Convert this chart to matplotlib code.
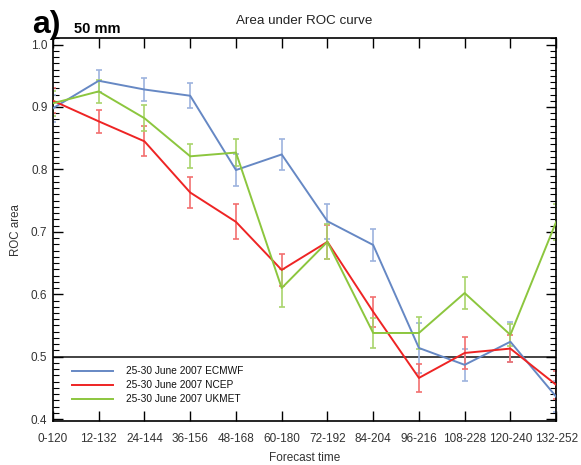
import matplotlib.pyplot as plt
from matplotlib.ticker import MultipleLocator
import numpy as np

plt.rcParams["font.family"] = ["Liberation Sans", "DejaVu Sans"]

# forecast windows (hours)
windows = ["0-120", "12-132", "24-144", "36-156", "48-168", "60-180",
           "72-192", "84-204", "96-216", "108-228", "120-240", "132-252"]

ecmwf = [0.898, 0.942, 0.928, 0.918, 0.799, 0.824, 0.717, 0.679, 0.514, 0.487, 0.524, 0.436]
ecmwf_err = [0.022, 0.018, 0.018, 0.020, 0.025, 0.025, 0.028, 0.026, 0.040, 0.026, 0.032, 0.025]

ncep = [0.910, 0.877, 0.845, 0.763, 0.716, 0.639, 0.684, 0.572, 0.466, 0.506, 0.513, 0.455]
ncep_err = [0.020, 0.018, 0.024, 0.025, 0.028, 0.025, 0.027, 0.024, 0.022, 0.025, 0.022, 0.022]

ukmet = [0.906, 0.925, 0.882, 0.821, 0.827, 0.610, 0.684, 0.538, 0.538, 0.602, 0.535, 0.716]
ukmet_err = [0.020, 0.019, 0.021, 0.019, 0.021, 0.030, 0.028, 0.024, 0.025, 0.026, 0.018, 0.029]

series = [
    ("25-30 June 2007 ECMWF", ecmwf, ecmwf_err, "#6688c4", "#9db3de"),
    ("25-30 June 2007 NCEP", ncep, ncep_err, "#ee2424", "#f27070"),
    ("25-30 June 2007 UKMET", ukmet, ukmet_err, "#8cc63e", "#a9d46c"),
]

fig = plt.figure(figsize=(5.81, 4.65), dpi=100)
ax = fig.add_axes([0.0912, 0.0946, 0.866, 0.823])

x = np.arange(len(windows))
ax.axhline(0.5, color="#222222", lw=1.2, zorder=1)

for label, vals, err, col, ecol in series:
    ax.errorbar(x, vals, yerr=err, fmt="none", ecolor=ecol, elinewidth=1.2,
                capsize=2.5, capthick=1.2, zorder=2)
    ax.plot(x, vals, color=col, lw=1.4, label=label, zorder=3)

ax.set_xlim(0, len(windows) - 1)
ax.set_ylim(0.397, 1.01)
ax.set_xticks(x)
ax.set_xticklabels(windows, fontsize=8.5, color="#333333")
ax.yaxis.set_minor_locator(MultipleLocator(0.01))
ax.set_yticks([0.4, 0.5, 0.6, 0.7, 0.8, 0.9, 1.0])
ax.set_yticklabels(["0.4", "0.5", "0.6", "0.7", "0.8", "0.9", "1.0"], fontsize=8.5, color="#333333")
ax.tick_params(axis="both", which="major", direction="in", length=7, width=1,
               top=True, right=True)
ax.tick_params(axis="x", which="major", pad=8.5)
ax.tick_params(axis="y", which="major", pad=4)
ax.tick_params(axis="y", which="minor", direction="in", length=4, width=0.8, right=True)
ax.tick_params(axis="x", which="minor", bottom=False, top=False)
for sp in ax.spines.values():
    sp.set_linewidth(1.2)

ax.set_xlabel("Forecast time", fontsize=8.5, color="#333333")
ax.set_ylabel("ROC area", fontsize=8.3, color="#333333")
ax.xaxis.set_label_coords(0.5, -0.081)
ax.yaxis.set_label_coords(-0.062, 0.5)
ax.set_title("Area under ROC curve", fontsize=9.6, color="#222222", pad=10)

fig.text(0.056, 0.929, "a)", fontsize=23, fontweight="bold", va="baseline")
fig.text(0.127, 0.929, "50 mm", fontsize=10.5, fontweight="bold", va="baseline")

ax.legend(loc="lower left", bbox_to_anchor=(0.02, 0.02), frameon=False,
          fontsize=7.3, handlelength=4.0, handletextpad=1.3, labelspacing=0.4,
          labelcolor="#111111")

fig.savefig("out.png", dpi=100)
